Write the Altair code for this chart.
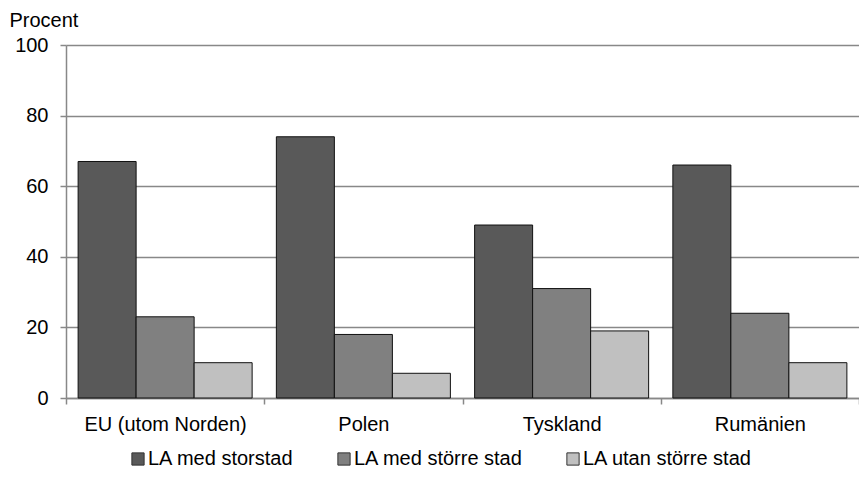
import altair as alt
import pandas as pd

categories = ["EU (utom Norden)", "Polen", "Tyskland", "Rumänien"]
series = ["LA med storstad", "LA med större stad", "LA utan större stad"]
storstad = [67, 74, 49, 66]
storre_stad = [23, 18, 31, 24]
utan_storre = [10, 7, 19, 10]
colors = ["#595959", "#808080", "#c0c0c0"]
y_ticks = [0, 20, 40, 60, 80, 100]

rows = []
for i, c in enumerate(categories):
    for s, vals in zip(series, [storstad, storre_stad, utan_storre]):
        rows.append({"Land": c, "Serie": s, "Procent": vals[i]})
df = pd.DataFrame(rows)

FONT = "Liberation Sans"
FS = 20

chart = alt.Chart(df).mark_bar(stroke="#111111", strokeWidth=1).encode(
    x=alt.X("Land:N", sort=categories,
            scale=alt.Scale(paddingInner=0, paddingOuter=0),
            axis=alt.Axis(title=None, labelAngle=0, tickBand="extent",
                          domainColor="#888888", domainWidth=1.5,
                          tickColor="#888888", tickWidth=1.5, tickSize=6,
                          labelPadding=10, labelFontSize=FS, labelColor="#000000",
                          labelFont=FONT, labelLimit=0)),
    xOffset=alt.XOffset("Serie:N", sort=series,
                        scale=alt.Scale(paddingInner=0, paddingOuter=0.209)),
    y=alt.Y("Procent:Q", scale=alt.Scale(domain=[0, 100]),
            axis=alt.Axis(values=y_ticks, grid=True, gridColor="#888888", gridWidth=1.5,
                          domainColor="#888888", domainWidth=1.5,
                          tickColor="#888888", tickWidth=1.5, tickSize=6,
                          labelPadding=12, labelFontSize=FS, labelColor="#000000",
                          labelFont=FONT,
                          title="Procent", titleAngle=0, titleAlign="left",
                          titleBaseline="alphabetic", titleX=-57, titleY=-19,
                          titleFontWeight="normal", titleFontSize=FS,
                          titleFont=FONT, titleColor="#000000")),
    color=alt.Color("Serie:N", sort=series,
                    scale=alt.Scale(domain=series, range=colors),
                    legend=alt.Legend(title=None, orient="none", direction="horizontal",
                                      columns=3, legendX=62, legendY=404,
                                      symbolType="square", symbolSize=150,
                                      symbolStrokeColor="#333333", symbolStrokeWidth=1,
                                      labelFontSize=FS, labelFont=FONT, labelColor="#000000",
                                      labelLimit=0, labelOffset=0, columnPadding=40)),
).properties(
    width=793, height=353,
    autosize=alt.AutoSizeParams(type="none"),
    padding={"left": 58, "top": 37, "right": 0, "bottom": 70},
).configure_view(stroke=None)

chart.save("out.html", embed_options={"renderer": "svg", "actions": False})
